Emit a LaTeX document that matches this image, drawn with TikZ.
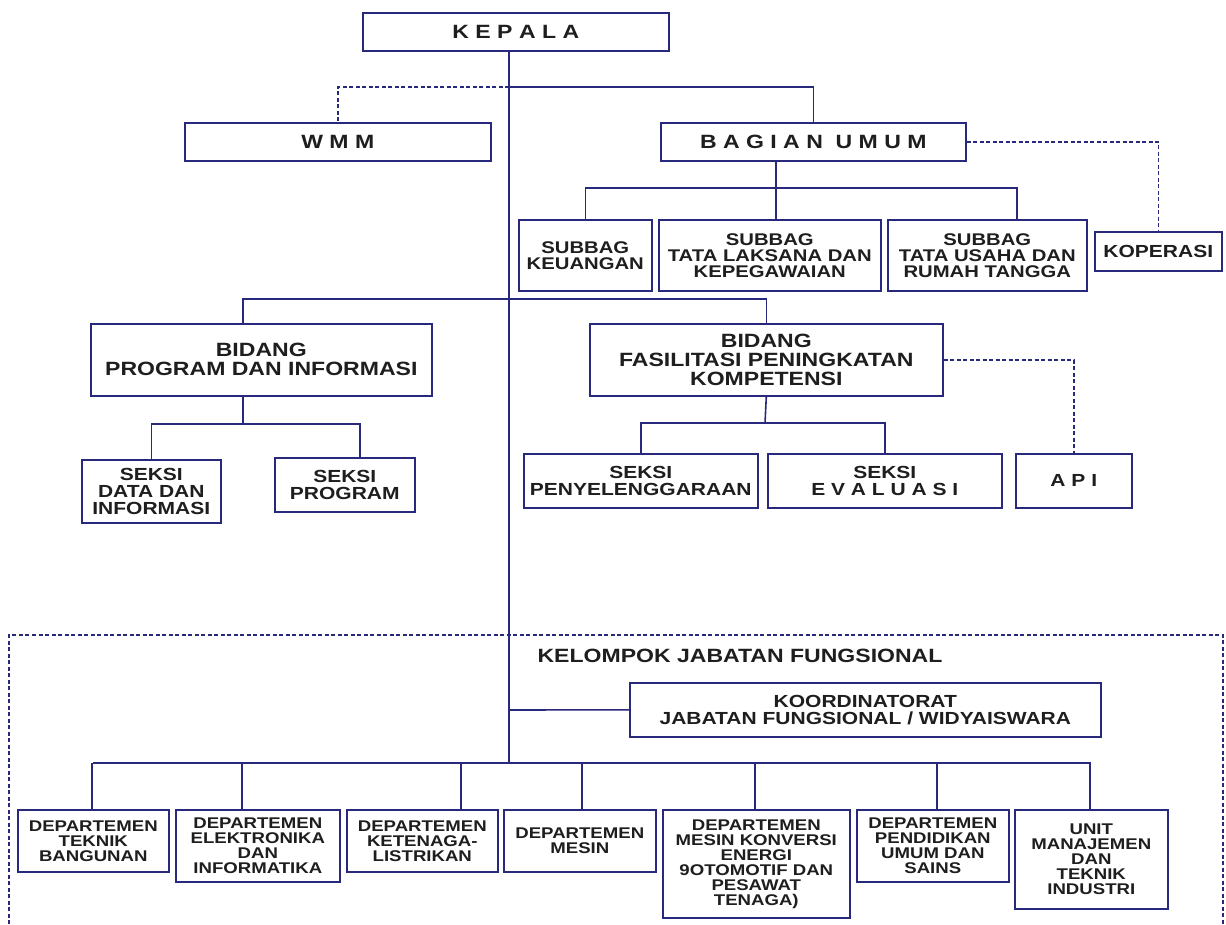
\documentclass[tikz,border=0pt]{standalone}
\usepackage{fontspec}
\setmainfont{Liberation Sans}[FakeStretch=1.2]
\definecolor{navy}{RGB}{40,40,125}
\definecolor{ink}{RGB}{30,30,30}

\begin{document}
\begin{tikzpicture}[x=1pt,y=-1pt]
	\tikzstyle{box}=[draw=navy,line width=1.6pt,fill=white,inner sep=0pt,align=center,text=ink,anchor=north west]
	\tikzstyle{link}=[draw=navy,line width=1.6pt]
	\tikzstyle{dline}=[draw=navy,line width=1.5pt,dash pattern=on 4pt off 2.5pt]
	\tikzstyle{txtbig}=[font=\fontsize{19.2}{19}\selectfont\bfseries]
	\tikzstyle{txtmid}=[font=\fontsize{17.5}{16.7}\selectfont\bfseries]
	\tikzstyle{txtsub}=[font=\fontsize{16.9}{16}\selectfont\bfseries]
	\tikzstyle{txtdept}=[font=\fontsize{15.5}{15}\selectfont\bfseries]

	\useasboundingbox (0,0) rectangle (1226,924);

	% pimpinan
	\node [box,txtbig,minimum width=306pt,minimum height=38pt] (kepala) at (362,12) {K E P A L A};
	\node [box,txtbig,minimum width=306pt,minimum height=38pt] (wmm) at (184,122) {W M M};
	\node [box,txtbig,minimum width=305pt,minimum height=38pt] (umum) at (660,122) {B A G I A N\ \ U M U M};
	\node [box,txtmid,minimum width=127pt,minimum height=39pt] (koperasi) at (1094,231) {KOPERASI};

	\node [box,txtsub,minimum width=133pt,minimum height=71pt] (keuangan) at (518,219) {SUBBAG\\KEUANGAN};
	\node [box,txtsub,minimum width=222pt,minimum height=71pt] (laksana) at (658,219) {SUBBAG\\TATA LAKSANA DAN\\KEPEGAWAIAN};
	\node [box,txtsub,minimum width=199pt,minimum height=71pt] (usaha) at (887,219) {SUBBAG\\TATA USAHA DAN\\RUMAH TANGGA};

	% bidang
	\node [box,txtbig,minimum width=341pt,minimum height=72pt] (bprog) at (90,323) {BIDANG\\PROGRAM DAN INFORMASI};
	\node [box,txtbig,minimum width=353pt,minimum height=72pt] (bfas) at (589,323) {BIDANG\\FASILITASI PENINGKATAN\\KOMPETENSI};
	\node [box,txtmid,minimum width=139pt,minimum height=63pt] (sdata) at (81,459) {SEKSI\\DATA DAN\\INFORMASI};
	\node [box,txtmid,minimum width=140pt,minimum height=54pt] (sprog) at (274,457) {SEKSI\\PROGRAM};
	\node [box,txtmid,minimum width=234pt,minimum height=54pt] (spenye) at (523,453) {SEKSI\\PENYELENGGARAAN};
	\node [box,txtmid,minimum width=234pt,minimum height=54pt] (seval) at (767,453) {SEKSI\\E V A L U A S I};
	\node [box,txtmid,minimum width=116pt,minimum height=54pt] (api) at (1015,453) {A P I};

	% jabatan fungsional
	\node [txtbig,text=ink] (kjf) at (740,656) {KELOMPOK JABATAN FUNGSIONAL};
	\node [box,txtmid,minimum width=471pt,minimum height=54pt] (koord) at (629,682) {KOORDINATORAT\\JABATAN FUNGSIONAL / WIDYAISWARA};

	\node [box,txtdept,minimum width=151pt,minimum height=62pt] (d1) at (17,809) {DEPARTEMEN\\TEKNIK\\BANGUNAN};
	\node [box,txtdept,minimum width=164pt,minimum height=72pt] (d2) at (175,809) {DEPARTEMEN\\ELEKTRONIKA\\DAN\\INFORMATIKA};
	\node [box,txtdept,minimum width=151pt,minimum height=62pt] (d3) at (346,809) {DEPARTEMEN\\KETENAGA-\\LISTRIKAN};
	\node [box,txtdept,minimum width=152pt,minimum height=62pt] (d4) at (503,809) {DEPARTEMEN\\MESIN};
	\node [box,txtdept,minimum width=187pt,minimum height=108pt] (d5) at (662,809) {DEPARTEMEN\\MESIN KONVERSI\\ENERGI\\9OTOMOTIF DAN\\PESAWAT\\TENAGA)};
	\node [box,txtdept,minimum width=152pt,minimum height=72pt] (d6) at (856,809) {DEPARTEMEN\\PENDIDIKAN\\UMUM DAN\\SAINS};
	\node [box,txtdept,minimum width=153pt,minimum height=99pt] (d7) at (1014,809) {UNIT\\MANAJEMEN\\DAN\\TEKNIK\\INDUSTRI};

	% junctions
	\coordinate (top) at (509,87);
	\coordinate (mid) at (509,299);
	\coordinate (kf) at (509,710);
	\coordinate (low) at (509,763);
	\coordinate (ua) at (776,188);
	\coordinate (ub) at (1017,188);
	\coordinate (pa) at (243,299);
	\coordinate (pb) at (243,424);
	\coordinate (pc) at (360,424);
	\coordinate (fa) at (765,423);

	% garis komando
	\path[link] (kepala.south -| low) -- (low);
	\path[link] (top) -| (umum.north);
	\path[dline] (top) -| (wmm.north);
	\path[dline] (umum.east) -| (koperasi.north);
	\path[link] (umum.south -| ua) -- (laksana.north -| ua);
	\path[link] (keuangan.north) |- (ub) -- (usaha.north -| ub);

	\path[link] (bprog.north -| pa) |- (mid) -| (bfas.north);
	\path[link] (bprog.south -| pb) -- (pb);
	\path[link] (sdata.north) |- (pc) -- (sprog.north -| pc);
	\path[link] (bfas.south) -- (fa);
	\path[link] (spenye.north) |- (fa) -| (seval.north);
	\path[dline] (bfas.east) -| (api.north);

	\path[link] (kf) -- (koord.west);
	\path[link] (d1.north |- low) -- (d7.north |- low);
	\foreach \d/\x in {d1/92,d2/242,d3/461,d4/582,d5/755,d6/937,d7/1090}
	{
		\coordinate (dx) at (\x,763);
		\path[link] (dx) -- (\d.north -| dx);
	}

	% kotak kelompok
	\draw[dline] (9,924) -- (9,635) -- (1223,635) -- (1223,924);
\end{tikzpicture}
\end{document}
